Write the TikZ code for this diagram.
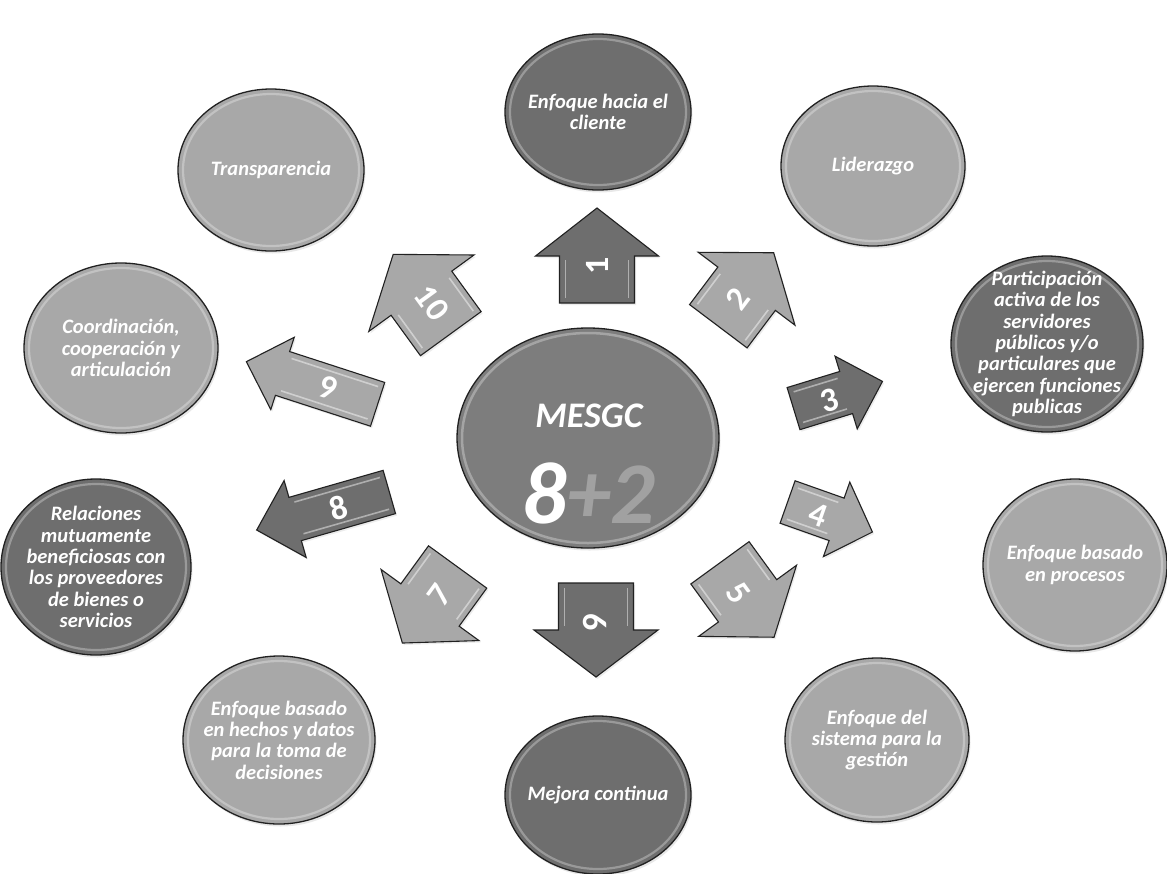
\documentclass[tikz,border=0pt]{standalone}
\usepackage{fontspec}
\setmainfont{Carlito}
\usetikzlibrary{shapes.geometric,shadows}
\definecolor{dk}{gray}{0.43}
\definecolor{lt}{gray}{0.66}
\definecolor{ctr}{gray}{0.49}
\definecolor{plusg}{gray}{0.63}
\definecolor{edgeg}{gray}{0.13}
\tikzset{
  bubble/.style={ellipse, draw=edgeg, line width=1.3pt, inner sep=0pt,
    drop shadow={opacity=0.18, shadow xshift=1.5pt, shadow yshift=-2.5pt}},
  btext/.style={text=white, font=\fontsize{20.5}{21.4}\selectfont\bfseries\itshape, align=center, inner sep=0pt},
  arrowbody/.style={draw=edgeg, line width=1.1pt, line join=miter,
    drop shadow={opacity=0.15, shadow xshift=1.5pt, shadow yshift=-2pt}},
  glint/.style={draw=white, opacity=0.45, line width=1.6pt},
  numtext/.style={text=white, font=\fontsize{34}{34}\selectfont\bfseries, inner sep=0pt}
}
% arrow outline: L length, s shaft width, H head width, h head length
\newcommand\arrowoutline[4]{({-#1/2},{-#2/2}) -- ({#1/2-#4},{-#2/2}) -- ({#1/2-#4},{-#3/2}) -- ({#1/2},0) -- ({#1/2-#4},{#3/2}) -- ({#1/2-#4},{#2/2}) -- ({-#1/2},{#2/2}) -- cycle}
% #1 x, #2 y, #3 angle, #4 L, #5 s, #6 H, #7 h, #8 fill
\newcommand\blkarrow[8]{%
  \begin{scope}[shift={(#1,#2)}, rotate=#3]
    \filldraw[arrowbody, fill=#8] \arrowoutline{#4}{#5}{#6}{#7};
    \draw[glint] ({-#4/2+5},{#5/2-6}) -- ({#4/2-#7-4},{#5/2-6});
    \draw[glint] ({-#4/2+5},{-#5/2+6}) -- ({#4/2-#7-4},{-#5/2+6});
  \end{scope}}
% #1 name, #2 x, #3 y, #4 width, #5 height, #6 fill, #7 text
\newcommand\bub[7]{%
  \node[bubble, fill=#6, minimum width=#4pt, minimum height=#5pt] (#1) at (#2,#3) {};
  \draw[white, opacity=0.3, line width=2.2pt] (#1.center) ellipse [x radius={#4/2-5}, y radius={#5/2-5}];
  \node[btext] (#1t) at (#1) {#7};}
\begin{document}
\begin{tikzpicture}[x=1pt, y=-1pt]
\useasboundingbox (0,0) rectangle (1167,873);
\fill[white] (0,0) rectangle (1167,873);

% outer bubbles
\bub{e1}{598}{112}{186}{156}{dk}{Enfoque hacia el\\cliente}
\bub{e2}{873}{166}{184}{160}{lt}{Liderazgo}
\bub{e3}{1047}{344}{192}{176}{dk}{Participación\\activa de los\\servidores\\públicos y/o\\particulares que\\ejercen funciones\\publicas}
\bub{e4}{1075}{565}{184}{172}{lt}{Enfoque basado\\en procesos}
\bub{e5}{877}{740}{184}{164}{lt}{Enfoque del\\sistema para la\\gestión}
\bub{e6}{598}{795}{186}{158}{dk}{Mejora continua}
\bub{e7}{279}{740}{192}{168}{lt}{Enfoque basado\\en hechos y datos\\para la toma de\\decisiones}
\bub{e8}{96}{567}{190}{176}{dk}{Relaciones\\mutuamente\\beneficiosas con\\los proveedores\\de bienes o\\servicios}
\bub{e9}{121}{348}{194}{170}{lt}{Coordinación,\\cooperación y\\articulación}
\bub{e10}{271}{170}{186}{162}{lt}{Transparencia}

% centre
\node[bubble, fill=ctr, minimum width=262pt, minimum height=220pt] (c) at (588,438) {};
\draw[white, opacity=0.3, line width=2.5pt] (c.center) ellipse [x radius=126, y radius=105];
\node[text=white, font=\fontsize{36}{36}\selectfont\bfseries\itshape, inner sep=0pt] (ct) at (589,416) {MESGC};
\node[font=\fontsize{88}{88}\selectfont\bfseries\itshape, inner sep=0pt] (cn) at (589,493) {\textcolor{white}{8}\textcolor{plusg}{+2}};

% arrows
\blkarrow{597}{255.5}{90}{95}{75}{123}{48}{dk}
\blkarrow{746}{289.5}{53}{92}{72}{121}{45}{lt}
\blkarrow{838}{395}{17}{93}{44}{76}{38}{dk}
\blkarrow{830}{517}{-19.5}{90}{45}{79}{38}{lt}
\blkarrow{747}{600}{-54}{92}{72}{121}{45}{lt}
\blkarrow{596}{630}{-90}{94}{75}{124}{47}{dk}
\blkarrow{430}{605}{234}{94}{72}{121}{47}{lt}
\blkarrow{323}{511}{196}{138}{45}{80}{40}{dk}
\blkarrow{312}{383}{162}{138}{46}{76}{38}{lt}
\blkarrow{422}{294}{126}{98}{75}{130}{48}{lt}

% arrow numbers
\node[numtext, rotate=90] (n1) at (597,266) {1};
\node[numtext, rotate=53] (n2) at (738,299) {2};
\node[numtext, rotate=17] (n3) at (830,400) {3};
\node[numtext, rotate=-19.5] (n4) at (818,515) {4};
\node[numtext, rotate=-54] (n5) at (738,593) {5};
\node[numtext, rotate=-90] (n6) at (595,622) {6};
\node[numtext, rotate=54] (n7) at (440,595) {7};
\node[numtext, rotate=16] (n8) at (339,508) {8};
\node[numtext, rotate=-18] (n9) at (328,388) {9};
\node[numtext, rotate=-54] (n10) at (432,303) {10};
\end{tikzpicture}
\end{document}
